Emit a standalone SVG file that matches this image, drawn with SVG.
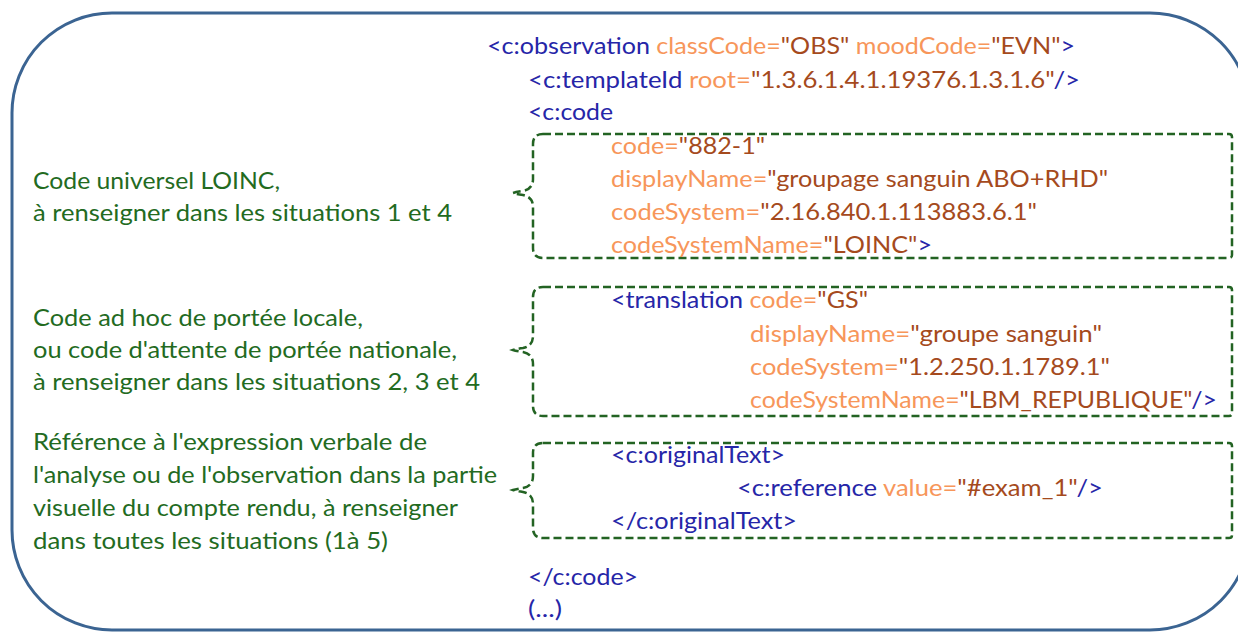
<svg xmlns="http://www.w3.org/2000/svg" width="1238" height="632" viewBox="0 0 1238 632">
<style>
text{font-family:Lato,"Open Sans","Liberation Sans",sans-serif;font-size:23px}
.g{fill:#236B1F}
.t{fill:#2626A8}
.a{fill:#F7965A}
.v{fill:#A54A1D}
.box{fill:none;stroke:#236323;stroke-width:2.5;stroke-dasharray:8 4}
</style>
<rect width="1238" height="632" fill="#ffffff"/>
<g id="frame"><rect x="12" y="13" width="1238" height="617" rx="100" ry="100" fill="none" stroke="#3B6492" stroke-width="3"/></g>

<g id="code-header">
<text x="487" y="54" textLength="588" lengthAdjust="spacingAndGlyphs"><tspan class="t">&lt;c:observation</tspan> <tspan class="a">classCode=</tspan><tspan class="v">"OBS"</tspan> <tspan class="a">moodCode=</tspan><tspan class="v">"EVN"</tspan><tspan class="t">&gt;</tspan></text>
<text x="528" y="88" textLength="552" lengthAdjust="spacingAndGlyphs"><tspan class="t">&lt;c:templateId</tspan> <tspan class="a">root=</tspan><tspan class="v">"1.3.6.1.4.1.19376.1.3.1.6"</tspan><tspan class="t">/&gt;</tspan></text>
<text x="528" y="120" textLength="85" lengthAdjust="spacingAndGlyphs"><tspan class="t">&lt;c:code</tspan></text>
</g>

<g id="box-loinc">
<path class="box" d="M543 134 H1229 Q1232 134 1232 137 V255 Q1232 258 1229 258 H543 Q533 258 533 248 V207 Q533 197 523 195 Q516 194 513 193 Q516 192 523 191 Q533 189 533 179 V144 Q533 134 543 134 Z"/>
<text x="611" y="154" textLength="154" lengthAdjust="spacingAndGlyphs"><tspan class="a">code=</tspan><tspan class="v">"882-1"</tspan></text>
<text x="611" y="187" textLength="497" lengthAdjust="spacingAndGlyphs"><tspan class="a">displayName=</tspan><tspan class="v">"groupage sanguin ABO+RHD"</tspan></text>
<text x="611" y="220" textLength="426" lengthAdjust="spacingAndGlyphs"><tspan class="a">codeSystem=</tspan><tspan class="v">"2.16.840.1.113883.6.1"</tspan></text>
<text x="611" y="253" textLength="321" lengthAdjust="spacingAndGlyphs"><tspan class="a">codeSystemName=</tspan><tspan class="v">"LOINC"</tspan><tspan class="t">&gt;</tspan></text>
</g>

<g id="box-translation">
<path class="box" d="M543 287 H1229 Q1232 287 1232 290 V413 Q1232 416 1229 416 H543 Q533 416 533 406 V364 Q533 354 523 352 Q516 351 513 350 Q516 349 523 348 Q533 346 533 336 V297 Q533 287 543 287 Z"/>
<text x="611" y="308" textLength="257" lengthAdjust="spacingAndGlyphs"><tspan class="t">&lt;translation</tspan> <tspan class="a">code=</tspan><tspan class="v">"GS"</tspan></text>
<text x="750" y="342" textLength="352" lengthAdjust="spacingAndGlyphs"><tspan class="a">displayName=</tspan><tspan class="v">"groupe sanguin"</tspan></text>
<text x="750" y="375" textLength="360" lengthAdjust="spacingAndGlyphs"><tspan class="a">codeSystem=</tspan><tspan class="v">"1.2.250.1.1789.1"</tspan></text>
<text x="750" y="408" textLength="467" lengthAdjust="spacingAndGlyphs"><tspan class="a">codeSystemName=</tspan><tspan class="v">"LBM_REPUBLIQUE"</tspan><tspan class="t">/&gt;</tspan></text>
</g>

<g id="box-originaltext">
<path class="box" d="M543 443 H1229 Q1232 443 1232 446 V535 Q1232 538 1229 538 H543 Q533 538 533 528 V504 Q533 494 523 492 Q516 491 513 490 Q516 489 523 488 Q533 486 533 476 V453 Q533 443 543 443 Z"/>
<text x="611" y="463" textLength="174" lengthAdjust="spacingAndGlyphs"><tspan class="t">&lt;c:originalText&gt;</tspan></text>
<text x="737" y="496" textLength="366" lengthAdjust="spacingAndGlyphs"><tspan class="t">&lt;c:reference</tspan> <tspan class="a">value=</tspan><tspan class="v">"#exam_1"</tspan><tspan class="t">/&gt;</tspan></text>
<text x="611" y="529" textLength="186" lengthAdjust="spacingAndGlyphs"><tspan class="t">&lt;/c:originalText&gt;</tspan></text>
</g>

<g id="code-footer">
<text x="528" y="585" textLength="110" lengthAdjust="spacingAndGlyphs"><tspan class="t">&lt;/c:code&gt;</tspan></text>
<text x="528" y="617" textLength="34" lengthAdjust="spacingAndGlyphs"><tspan class="t">(...)</tspan></text>
</g>

<g id="label-loinc">
<text class="g" x="33" y="189" textLength="247" lengthAdjust="spacingAndGlyphs">Code universel LOINC,</text>
<text class="g" x="33" y="221" textLength="419" lengthAdjust="spacingAndGlyphs">à renseigner  dans les situations 1 et 4</text>
</g>
<g id="label-translation">
<text class="g" x="33" y="326" textLength="330" lengthAdjust="spacingAndGlyphs">Code ad hoc de portée locale,</text>
<text class="g" x="33" y="358" textLength="424" lengthAdjust="spacingAndGlyphs">ou code d'attente de portée nationale,</text>
<text class="g" x="33" y="390" textLength="447" lengthAdjust="spacingAndGlyphs">à renseigner dans les situations 2, 3 et 4</text>
</g>
<g id="label-originaltext">
<text class="g" x="33" y="450" textLength="394" lengthAdjust="spacingAndGlyphs">Référence à l'expression verbale de</text>
<text class="g" x="33" y="483" textLength="464" lengthAdjust="spacingAndGlyphs">l'analyse ou de l'observation dans la partie</text>
<text class="g" x="33" y="516" textLength="425" lengthAdjust="spacingAndGlyphs">visuelle du compte rendu, à renseigner</text>
<text class="g" x="33" y="549" textLength="355" lengthAdjust="spacingAndGlyphs">dans toutes les situations (1à 5)</text>
</g>
</svg>
